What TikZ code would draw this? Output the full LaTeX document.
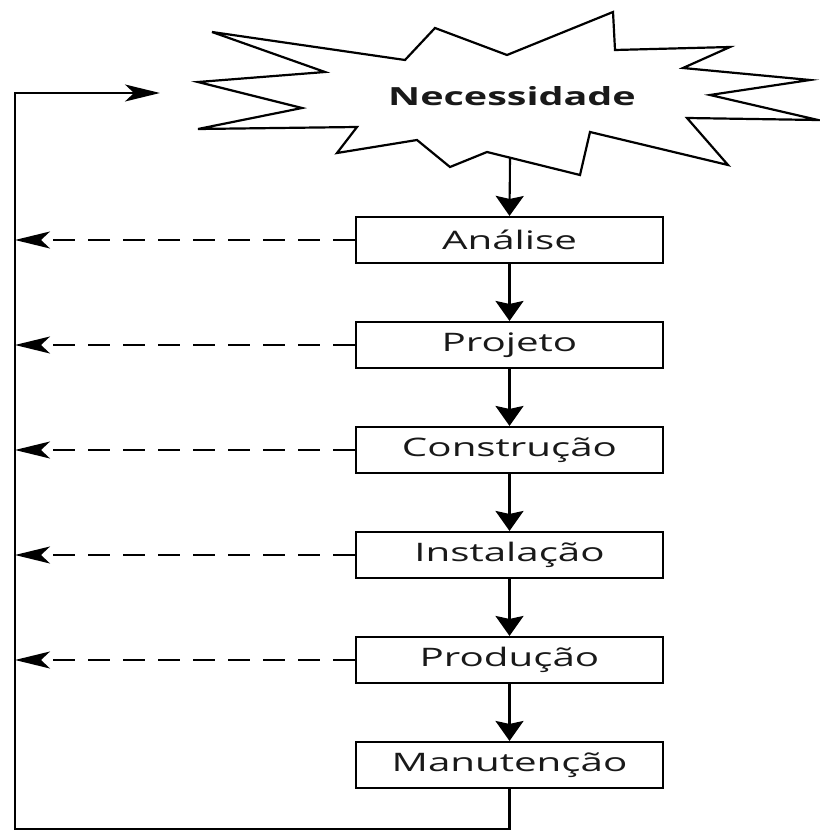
\documentclass[tikz,border=0pt]{standalone}
\usepackage{fontspec}
\setmainfont[FakeStretch=1.58]{Open Sans}
\usetikzlibrary{arrows.meta}
\begin{document}
\begin{tikzpicture}[x=1pt,y=-1pt,line join=miter,
  stagebox/.style={draw,line width=2.1pt,minimum width=307pt,minimum height=46pt,inner sep=0pt,font=\fontsize{25.5}{28}\selectfont,text=black!90},
  downarrow/.style={line width=2.1pt,-{Stealth[length=20pt,width=28pt,inset=3pt]}},
  sidearrow/.style={line width=2.1pt,-{Stealth[length=35pt,width=17pt,inset=9pt]}},
  feedback/.style={sidearrow,dash pattern=on 22pt off 13pt}]
\useasboundingbox (0,0) rectangle (819,834);
% starburst
\draw[line width=2.2pt,fill=white] (212,32) -- (405,60) -- (435,28) -- (507,55) -- (613,12) -- (615,50)
  -- (730,47) -- (683,68) -- (810,80) -- (710,95) -- (818,120) -- (687,118) -- (728,165)
  -- (590,132) -- (580,175) -- (487,152) -- (450,167) -- (417,140) -- (337,153) -- (357,127)
  -- (198,129) -- (302,108) -- (198,82) -- (325,72) -- cycle;
\node[font=\bfseries\fontsize{25}{28}\selectfont,text=black!90] (need) at (512,96) {Necessidade};
\coordinate (starbot) at (510,158);
\coordinate (startip) at (160,93);
% stages
\node[stagebox] (ana) at (509.5,240) {Análise};
\node[stagebox] (proj) at (509.5,345) {Projeto};
\node[stagebox] (cons) at (509.5,450) {Construção};
\node[stagebox] (inst) at (509.5,555) {Instalação};
\node[stagebox] (prod) at (509.5,660) {Produção};
\node[stagebox] (man) at (509.5,765) {Manutenção};
% downward flow
\draw[downarrow] (starbot) -- (ana.north);
\draw[downarrow] (ana) -- (proj);
\draw[downarrow] (proj) -- (cons);
\draw[downarrow] (cons) -- (inst);
\draw[downarrow] (inst) -- (prod);
\draw[downarrow] (prod) -- (man);
% feedback loop
\coordinate (leftline) at (15,0);
\coordinate (bottomline) at (0,829);
\draw[sidearrow] (man.south) -- (man.south |- bottomline) -- (leftline |- bottomline) -- (leftline |- startip) -- (startip);
\foreach \n in {ana,proj,cons,inst,prod}
  \draw[feedback] (\n.west) -- (\n.west -| leftline);
\end{tikzpicture}
\end{document}
